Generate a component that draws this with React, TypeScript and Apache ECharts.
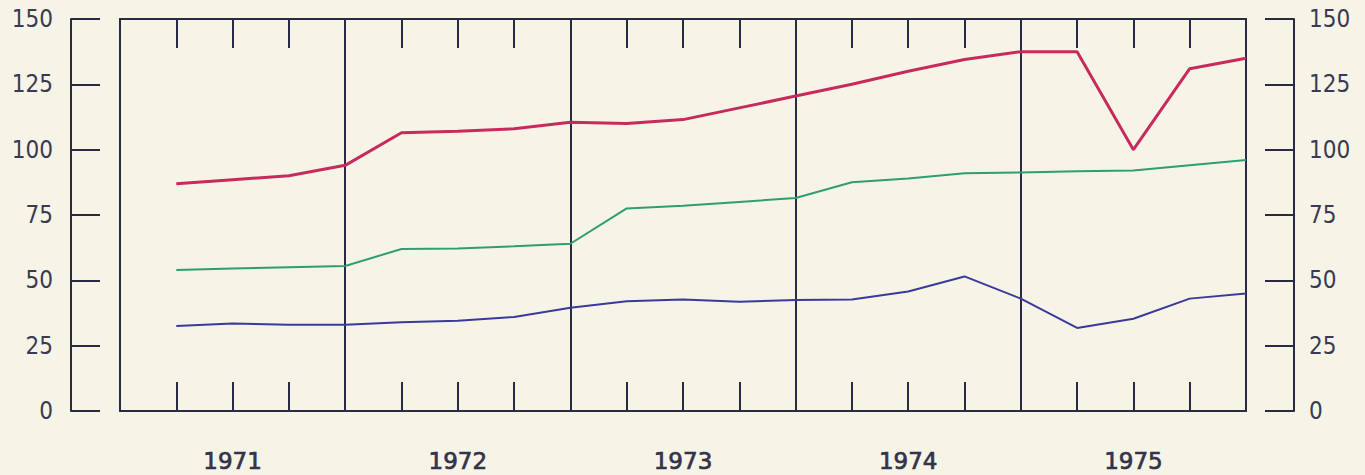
import React, { useEffect, useRef } from "react";
import * as echarts from "echarts";

const years = ["1971", "1972", "1973", "1974", "1975"];
const quarters = [1, 2, 3, 4, 5, 6, 7, 8, 9, 10, 11, 12, 13, 14, 15, 16, 17, 18, 19, 20];
const redSeries = [87, 88.5, 90, 94, 106.5, 107, 108, 110.5, 110, 111.5, 116, 120.5, 125, 130, 134.5, 137.5, 137.5, 100, 131, 135];
const greenSeries = [54, 54.5, 55, 55.5, 62, 62.2, 63, 64, 77.5, 78.5, 80, 81.5, 87.5, 89, 91, 91.3, 91.7, 92, 94, 96];
const blueSeries = [32.5, 33.5, 33, 33, 34, 34.5, 36, 39.5, 42, 42.7, 41.8, 42.5, 42.7, 45.7, 51.5, 43, 31.8, 35.3, 43, 45];
const yTicks = [0, 25, 50, 75, 100, 125, 150];

const INK = "#2a2a44";
const FONT_Y = "'DejaVu Sans Condensed', 'DejaVu Sans Mono', sans-serif";
const FONT_X = "'DejaVu Sans', sans-serif";

export default function App() {
  const ref = useRef<HTMLDivElement>(null);
  useEffect(() => {
    if (!ref.current) return;
    const chart = echarts.init(ref.current, undefined, { renderer: "svg" });
    const yMin = yTicks[0];
    const yMax = yTicks[yTicks.length - 1];
    const yStep = yTicks[1] - yTicks[0];
    const qMax = quarters[quarters.length - 1];
    const quarterAxis = (position: "top" | "bottom") => ({
      type: "value",
      gridIndex: 0,
      position,
      min: 0,
      max: qMax,
      interval: 1,
      axisLine: { show: true, onZero: false, lineStyle: { color: INK, width: 2 } },
      axisTick: { show: true, inside: true, length: 29, lineStyle: { color: INK, width: 2 } },
      axisLabel: { show: false },
      splitLine: { show: false },
    });
    const hiddenX = (gridIndex: number) => ({
      type: "value",
      gridIndex,
      min: 0,
      max: 1,
      show: false,
    });
    const valueAxis = (gridIndex: number, position: "left" | "right", ticks: boolean) => ({
      type: "value",
      gridIndex,
      position,
      min: yMin,
      max: yMax,
      interval: yStep,
      axisLine: { show: true, onZero: false, lineStyle: { color: INK, width: 2 } },
      axisTick: { show: ticks, inside: true, length: 29, lineStyle: { color: INK, width: 2 } },
      axisLabel: ticks
        ? {
            show: true,
            color: "#3a3a52",
            fontFamily: FONT_Y,
            fontSize: 24,
            margin: position === "left" ? 18 : 15,
          }
        : { show: false },
      splitLine: { show: false },
    });
    const mk = (name: string, values: number[], color: string, width: number) => ({
      name,
      type: "line",
      xAxisIndex: 0,
      yAxisIndex: 0,
      data: values.map((v, i) => [quarters[i], v]),
      showSymbol: false,
      lineStyle: { color, width },
      z: 5,
    });
    chart.setOption({
      animation: false,
      backgroundColor: "#f6f4e7",
      grid: [
        { left: 120, top: 19, width: 1126, height: 392, containLabel: false },
        { left: 71, top: 19, width: 29, height: 392, containLabel: false },
        { left: 1265, top: 19, width: 29, height: 392, containLabel: false },
      ],
      xAxis: [
        quarterAxis("bottom"),
        quarterAxis("top"),
        {
          type: "category",
          gridIndex: 0,
          position: "bottom",
          data: years,
          boundaryGap: true,
          axisLine: { show: false },
          axisTick: { show: false },
          axisLabel: {
            show: true,
            color: "#33334a",
            fontFamily: FONT_X,
            fontSize: 23,
            textBorderColor: "#33334a",
            textBorderWidth: 0.7,
            margin: 38,
          },
          splitLine: { show: true, lineStyle: { color: INK, width: 2 } },
        },
        hiddenX(1),
        hiddenX(2),
      ],
      yAxis: [
        valueAxis(0, "left", false),
        valueAxis(0, "right", false),
        valueAxis(1, "left", true),
        valueAxis(2, "right", true),
      ],
      series: [
        mk("red", redSeries, "#c92a5e", 3),
        mk("green", greenSeries, "#2f9e72", 2),
        mk("blue", blueSeries, "#3a3a9c", 2),
      ],
    });
    return () => chart.dispose();
  }, []);
  return (
    <div
      ref={ref}
      style={{ position: "absolute", left: 0, top: 0, width: 1365, height: 475 }}
    />
  );
}
